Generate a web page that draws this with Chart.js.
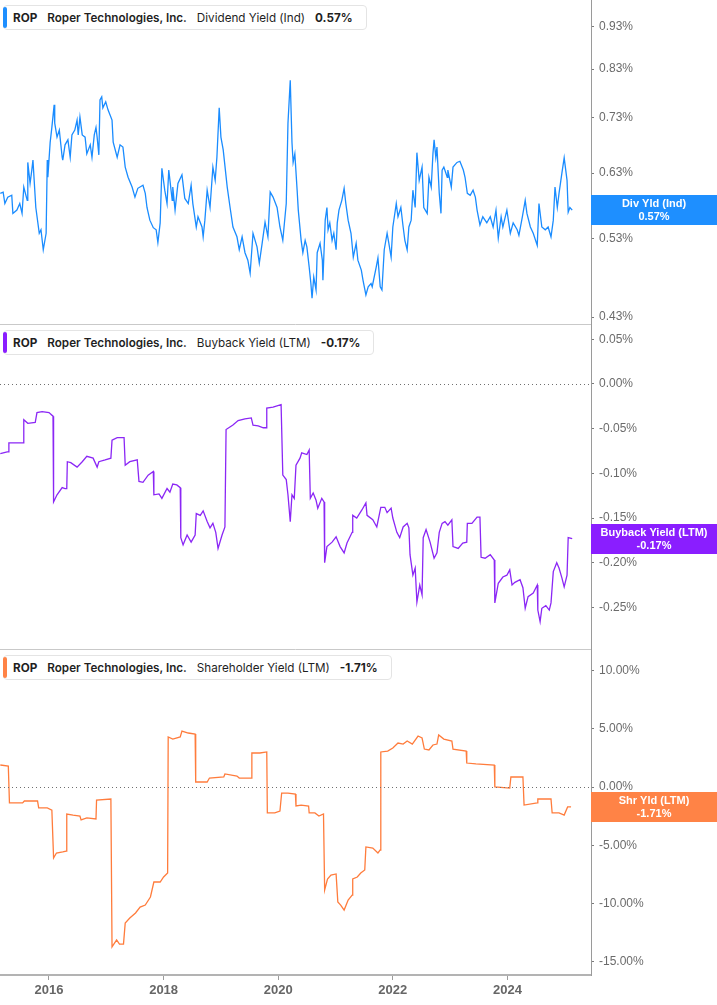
<!DOCTYPE html>
<html>
<head>
<meta charset="utf-8">
<script src="https://cdn.jsdelivr.net/npm/chart.js@4.4.1/dist/chart.umd.min.js"></script>
<style>
  body { margin: 0; background: #fff; }
  #wrap { position: relative; width: 717px; height: 1005px; overflow: hidden; }
  canvas { position: absolute; left: 0; }
  .legend {
    position: absolute; left: 3px; height: 25px; box-sizing: border-box;
    border: 1px solid #e4e4e4; border-radius: 4px; background: #fff;
    display: flex; align-items: center; padding: 0 13px 0 9px;
    font: 11.7px Inter, "Noto Sans", sans-serif; color: #1f1f1f; white-space: nowrap;
  }
  .legend .bar { position: absolute; left: -1px; top: 1px; bottom: 1px; width: 4px; border-radius: 2px; }
  .legend span { margin-right: 10px; }
  .legend .tk { font-weight: 700; }
  .legend .co { font-weight: 600; }
  .legend .val { font-weight: 700; margin-right: 0; }
</style>
</head>
<body>
<div id="wrap">
  <canvas id="divChart" width="717" height="325" style="top:0"></canvas>
  <canvas id="buyChart" width="717" height="325" style="top:325px"></canvas>
  <canvas id="shrChart" width="717" height="355" style="top:650px"></canvas>

  <div class="legend" style="top:5px"><i class="bar" style="background:#1e8fff"></i><span class="tk">ROP</span><span class="co">Roper Technologies, Inc.</span><span>Dividend Yield (Ind)</span><span class="val" id="divVal"></span></div>
  <div class="legend" style="top:330px"><i class="bar" style="background:#8a1eff"></i><span class="tk">ROP</span><span class="co">Roper Technologies, Inc.</span><span>Buyback Yield (LTM)</span><span class="val" id="buyVal"></span></div>
  <div class="legend" style="top:655px"><i class="bar" style="background:#ff8346"></i><span class="tk">ROP</span><span class="co">Roper Technologies, Inc.</span><span>Shareholder Yield (LTM)</span><span class="val" id="shrVal"></span></div>
</div>

<script>
// x values are decimal years
const yearTicks = [2016, 2018, 2020, 2022, 2024];

const divTicks = [0.43, 0.53, 0.63, 0.73, 0.83, 0.93];
const divYears = [
  2015.15, 2015.20, 2015.23, 2015.28, 2015.35, 2015.37, 2015.44, 2015.49, 2015.53, 2015.56,
  2015.62, 2015.63, 2015.67, 2015.70, 2015.72, 2015.77, 2015.83, 2015.86, 2015.90, 2015.95,
  2015.97, 2015.98, 2016.02, 2016.05, 2016.09, 2016.10, 2016.14, 2016.18, 2016.23, 2016.24,
  2016.28, 2016.33, 2016.37, 2016.40, 2016.45, 2016.49, 2016.51, 2016.54, 2016.58, 2016.63,
  2016.66, 2016.72, 2016.75, 2016.79, 2016.82, 2016.84, 2016.87, 2016.89, 2016.92, 2016.94,
  2016.99, 2017.03, 2017.10, 2017.12, 2017.19, 2017.24, 2017.29, 2017.33, 2017.38, 2017.45,
  2017.50, 2017.55, 2017.64, 2017.68, 2017.71, 2017.76, 2017.82, 2017.87, 2017.90, 2017.94,
  2017.97, 2018.02, 2018.06, 2018.09, 2018.15, 2018.16, 2018.20, 2018.25, 2018.32, 2018.37,
  2018.43, 2018.48, 2018.51, 2018.57, 2018.60, 2018.67, 2018.69, 2018.72, 2018.76, 2018.81,
  2018.86, 2018.90, 2018.93, 2018.97, 2019.00, 2019.04, 2019.11, 2019.16, 2019.21, 2019.28,
  2019.32, 2019.37, 2019.42, 2019.47, 2019.51, 2019.56, 2019.63, 2019.67, 2019.72, 2019.77,
  2019.82, 2019.86, 2019.91, 2019.98, 2020.03, 2020.08, 2020.14, 2020.17, 2020.21, 2020.24,
  2020.26, 2020.29, 2020.33, 2020.35, 2020.40, 2020.43, 2020.47, 2020.50, 2020.54, 2020.57,
  2020.59, 2020.62, 2020.66, 2020.68, 2020.73, 2020.77, 2020.78, 2020.82, 2020.85, 2020.87,
  2020.90, 2020.94, 2020.97, 2021.01, 2021.03, 2021.06, 2021.11, 2021.15, 2021.18, 2021.22,
  2021.27, 2021.31, 2021.36, 2021.39, 2021.45, 2021.48, 2021.53, 2021.57, 2021.62, 2021.64,
  2021.71, 2021.74, 2021.78, 2021.81, 2021.85, 2021.90, 2021.93, 2021.97, 2022.00, 2022.06,
  2022.09, 2022.14, 2022.18, 2022.21, 2022.25, 2022.28, 2022.32, 2022.35, 2022.39, 2022.42,
  2022.46, 2022.51, 2022.54, 2022.60, 2022.63, 2022.67, 2022.70, 2022.72, 2022.75, 2022.77,
  2022.81, 2022.84, 2022.86, 2022.89, 2022.95, 2022.96, 2023.02, 2023.05, 2023.12, 2023.17,
  2023.23, 2023.26, 2023.30, 2023.35, 2023.40, 2023.44, 2023.47, 2023.52, 2023.57, 2023.64,
  2023.70, 2023.75, 2023.80, 2023.84, 2023.89, 2023.92, 2023.99, 2024.05, 2024.10, 2024.17,
  2024.20, 2024.26, 2024.31, 2024.34, 2024.40, 2024.45, 2024.52, 2024.55, 2024.60, 2024.66,
  2024.71, 2024.76, 2024.80, 2024.83, 2024.87, 2024.90, 2024.95, 2024.99, 2025.04, 2025.06,
  2025.09, 2025.13
];
const divValues = [
  0.597, 0.599, 0.581, 0.591, 0.594, 0.566, 0.571, 0.581, 0.566, 0.607,
  0.586, 0.648, 0.613, 0.635, 0.652, 0.575, 0.537, 0.542, 0.514, 0.537,
  0.652, 0.623, 0.683, 0.711, 0.755, 0.719, 0.693, 0.706, 0.657, 0.652,
  0.679, 0.688, 0.657, 0.697, 0.706, 0.725, 0.697, 0.731, 0.697, 0.693,
  0.663, 0.679, 0.657, 0.697, 0.711, 0.693, 0.661, 0.765, 0.771, 0.749,
  0.761, 0.745, 0.725, 0.684, 0.657, 0.679, 0.675, 0.640, 0.623, 0.607,
  0.591, 0.605, 0.610, 0.597, 0.575, 0.556, 0.545, 0.542, 0.524, 0.552,
  0.638, 0.602, 0.581, 0.635, 0.586, 0.607, 0.571, 0.613, 0.627, 0.589,
  0.581, 0.610, 0.581, 0.546, 0.561, 0.546, 0.532, 0.556, 0.602, 0.575,
  0.640, 0.618, 0.657, 0.749, 0.693, 0.670, 0.607, 0.575, 0.546, 0.532,
  0.514, 0.532, 0.510, 0.500, 0.483, 0.537, 0.518, 0.496, 0.523, 0.553,
  0.532, 0.599, 0.591, 0.575, 0.546, 0.527, 0.581, 0.719, 0.806, 0.683,
  0.648, 0.663, 0.602, 0.571, 0.527, 0.510, 0.527, 0.518, 0.491, 0.470,
  0.452, 0.478, 0.462, 0.510, 0.523, 0.500, 0.474, 0.556, 0.575, 0.542,
  0.552, 0.527, 0.537, 0.514, 0.552, 0.571, 0.586, 0.605, 0.581, 0.556,
  0.537, 0.504, 0.523, 0.500, 0.487, 0.474, 0.456, 0.466, 0.470, 0.466,
  0.491, 0.503, 0.466, 0.462, 0.514, 0.537, 0.523, 0.504, 0.546, 0.581,
  0.561, 0.575, 0.546, 0.527, 0.514, 0.546, 0.556, 0.602, 0.575, 0.665,
  0.618, 0.640, 0.575, 0.566, 0.623, 0.607, 0.663, 0.688, 0.657, 0.675,
  0.597, 0.566, 0.635, 0.640, 0.623, 0.635, 0.607, 0.640, 0.648, 0.650,
  0.635, 0.623, 0.597, 0.594, 0.602, 0.591, 0.571, 0.549, 0.561, 0.552,
  0.561, 0.546, 0.571, 0.530, 0.561, 0.546, 0.571, 0.537, 0.552, 0.542,
  0.534, 0.561, 0.586, 0.566, 0.546, 0.537, 0.520, 0.581, 0.546, 0.542,
  0.546, 0.532, 0.556, 0.607, 0.575, 0.597, 0.630, 0.656, 0.618, 0.568,
  0.575, 0.571
];

const buyTicks = [-0.25, -0.20, -0.15, -0.10, -0.05, 0.00, 0.05];
const buyYears = [
  2015.15, 2015.27, 2015.29, 2015.30, 2015.55, 2015.56, 2015.63, 2015.76, 2015.79, 2015.88,
  2016.00, 2016.07, 2016.08, 2016.14, 2016.23, 2016.28, 2016.31, 2016.32, 2016.38, 2016.49,
  2016.58, 2016.66, 2016.77, 2016.84, 2016.87, 2016.98, 2017.08, 2017.10, 2017.19, 2017.31,
  2017.33, 2017.41, 2017.54, 2017.57, 2017.64, 2017.73, 2017.82, 2017.83, 2017.92, 2017.97,
  2018.06, 2018.11, 2018.16, 2018.23, 2018.29, 2018.30, 2018.34, 2018.41, 2018.48, 2018.55,
  2018.57, 2018.64, 2018.69, 2018.76, 2018.81, 2018.86, 2018.91, 2018.95, 2019.02, 2019.07,
  2019.09, 2019.21, 2019.30, 2019.42, 2019.53, 2019.56, 2019.65, 2019.74, 2019.79, 2019.80,
  2019.91, 2020.05, 2020.08, 2020.14, 2020.17, 2020.21, 2020.24, 2020.28, 2020.31, 2020.38,
  2020.41, 2020.50, 2020.54, 2020.56, 2020.61, 2020.66, 2020.69, 2020.76, 2020.80, 2020.81,
  2020.85, 2020.94, 2021.01, 2021.08, 2021.15, 2021.20, 2021.29, 2021.30, 2021.37, 2021.46,
  2021.53, 2021.55, 2021.65, 2021.72, 2021.79, 2021.86, 2021.90, 2021.97, 2022.00, 2022.07,
  2022.12, 2022.18, 2022.25, 2022.28, 2022.30, 2022.35, 2022.39, 2022.42, 2022.47, 2022.51,
  2022.53, 2022.58, 2022.65, 2022.72, 2022.77, 2022.81, 2022.86, 2022.91, 2022.96, 2023.03,
  2023.05, 2023.14, 2023.22, 2023.29, 2023.30, 2023.38, 2023.47, 2023.52, 2023.54, 2023.61,
  2023.70, 2023.77, 2023.78, 2023.84, 2023.92, 2023.99, 2024.04, 2024.08, 2024.13, 2024.22,
  2024.27, 2024.31, 2024.36, 2024.45, 2024.52, 2024.53, 2024.57, 2024.60, 2024.67, 2024.73,
  2024.76, 2024.80, 2024.86, 2024.90, 2024.95, 2024.99, 2025.04, 2025.06, 2025.13
];
const buyValues = [
  -0.078, -0.076, -0.076, -0.066, -0.066, -0.040, -0.044, -0.043, -0.032, -0.031,
  -0.032, -0.036, -0.132, -0.124, -0.116, -0.117, -0.117, -0.087, -0.088, -0.093,
  -0.087, -0.081, -0.083, -0.093, -0.087, -0.085, -0.083, -0.063, -0.060, -0.060,
  -0.091, -0.087, -0.085, -0.109, -0.110, -0.102, -0.098, -0.124, -0.123, -0.128,
  -0.117, -0.121, -0.112, -0.113, -0.116, -0.172, -0.180, -0.169, -0.177, -0.169,
  -0.145, -0.147, -0.142, -0.154, -0.161, -0.156, -0.166, -0.184, -0.169, -0.160,
  -0.051, -0.046, -0.041, -0.039, -0.038, -0.046, -0.047, -0.049, -0.049, -0.027,
  -0.026, -0.023, -0.102, -0.107, -0.124, -0.154, -0.124, -0.128, -0.091, -0.083,
  -0.077, -0.079, -0.074, -0.128, -0.122, -0.130, -0.139, -0.128, -0.132, -0.200,
  -0.182, -0.177, -0.171, -0.182, -0.189, -0.178, -0.166, -0.147, -0.150, -0.141,
  -0.133, -0.147, -0.152, -0.160, -0.138, -0.138, -0.144, -0.139, -0.150, -0.166,
  -0.172, -0.160, -0.156, -0.161, -0.191, -0.214, -0.206, -0.244, -0.225, -0.236,
  -0.172, -0.163, -0.177, -0.195, -0.189, -0.166, -0.156, -0.154, -0.158, -0.152,
  -0.182, -0.184, -0.178, -0.177, -0.156, -0.156, -0.149, -0.149, -0.194, -0.195,
  -0.191, -0.197, -0.245, -0.223, -0.216, -0.214, -0.208, -0.225, -0.222, -0.219,
  -0.228, -0.251, -0.238, -0.234, -0.225, -0.253, -0.266, -0.251, -0.248, -0.253,
  -0.245, -0.210, -0.200, -0.206, -0.217, -0.227, -0.214, -0.172, -0.173
];

const shrTicks = [-15, -10, -5, 0, 5, 10];
const shrYears = [
  2015.15, 2015.29, 2015.31, 2015.54, 2015.57, 2015.80, 2015.82, 2015.97, 2016.05, 2016.08,
  2016.13, 2016.24, 2016.30, 2016.31, 2016.42, 2016.54, 2016.56, 2016.66, 2016.82, 2016.83,
  2017.08, 2017.10, 2017.18, 2017.23, 2017.30, 2017.33, 2017.41, 2017.51, 2017.59, 2017.68,
  2017.77, 2017.83, 2017.94, 2018.00, 2018.07, 2018.08, 2018.16, 2018.29, 2018.32, 2018.43,
  2018.55, 2018.56, 2018.76, 2018.80, 2019.05, 2019.07, 2019.28, 2019.32, 2019.53, 2019.54,
  2019.68, 2019.80, 2019.81, 2019.94, 2020.03, 2020.06, 2020.17, 2020.30, 2020.31, 2020.40,
  2020.53, 2020.54, 2020.64, 2020.71, 2020.79, 2020.81, 2020.86, 2020.92, 2021.01, 2021.04,
  2021.09, 2021.15, 2021.22, 2021.29, 2021.30, 2021.38, 2021.44, 2021.51, 2021.53, 2021.65,
  2021.74, 2021.78, 2021.79, 2021.91, 2022.00, 2022.09, 2022.18, 2022.25, 2022.34, 2022.44,
  2022.51, 2022.55, 2022.63, 2022.70, 2022.77, 2022.80, 2022.89, 2023.03, 2023.05, 2023.28,
  2023.29, 2023.45, 2023.77, 2023.78, 2024.04, 2024.06, 2024.27, 2024.29, 2024.52, 2024.53,
  2024.76, 2024.78, 2024.90, 2024.99, 2025.05, 2025.11
];
const shrValues = [
  1.89, 1.80, -1.37, -1.37, -1.20, -1.20, -1.80, -1.80, -1.98, -6.10,
  -5.67, -5.58, -5.50, -2.32, -2.41, -2.49, -2.83, -2.66, -2.75, -1.12,
  -1.03, -13.74, -13.14, -13.49, -13.49, -11.68, -11.25, -10.82, -10.31, -10.14,
  -9.45, -8.16, -8.16, -7.73, -7.39, 4.30, 4.12, 4.30, 4.81, 4.64,
  4.55, 0.43, 0.43, 0.77, 0.86, 1.12, 0.94, 0.77, 0.77, 2.92,
  2.92, 3.01, -2.23, -2.23, -2.06, -0.52, -0.52, -0.60, -1.63, -1.55,
  -1.63, -2.23, -2.23, -2.49, -2.32, -8.85, -7.90, -7.56, -7.47, -9.88,
  -10.14, -10.57, -9.71, -9.28, -7.90, -7.73, -7.39, -7.13, -5.15, -5.24,
  -5.67, -5.41, 3.01, 3.09, 3.35, 3.78, 3.69, 3.95, 3.69, 4.38,
  4.21, 3.26, 3.18, 3.61, 3.69, 4.47, 4.12, 3.95, 3.26, 3.09,
  2.06, 1.98, 1.89, 0.00, -0.09, 0.86, 0.86, -1.55, -1.37, -1.03,
  -1.03, -2.23, -2.23, -2.41, -1.71, -1.71
];

const X_MIN = 2015.145;
const X_MAX = 2025.458;
const AXIS_FONT = 'Liberation Sans, Arial, sans-serif';

const last = arr => arr[arr.length - 1];
const pct = v => v.toFixed(2) + '%';

// badge on the axis, dotted zero line and panel separator
const panelDecor = {
  id: 'panelDecor',
  afterDatasetsDraw(chart, args, opts) {
    const { ctx, chartArea } = chart;
    ctx.save();
    if (opts.zeroLine) {
      const py = Math.round(chart.scales.y.getPixelForValue(0)) + 0.5;
      ctx.strokeStyle = '#6f6f6f';
      ctx.lineWidth = 1;
      ctx.setLineDash([1, 3]);
      ctx.beginPath();
      ctx.moveTo(chartArea.left, py);
      ctx.lineTo(chartArea.right, py);
      ctx.stroke();
      ctx.setLineDash([]);
    }
    if (opts.separator) {
      ctx.strokeStyle = '#c9c9c9';
      ctx.lineWidth = 1;
      ctx.beginPath();
      ctx.moveTo(chartArea.left, chartArea.bottom - 0.5);
      ctx.lineTo(chartArea.right, chartArea.bottom - 0.5);
      ctx.stroke();
    }
    ctx.restore();
  },
  afterDraw(chart, args, opts) {
    if (!opts.badge) return;
    const { ctx, chartArea } = chart;
    const b = opts.badge;
    const py = Math.round(chart.scales.y.getPixelForValue(b.value));
    const left = chartArea.right;
    ctx.save();
    ctx.fillStyle = b.color;
    ctx.fillRect(left, py - 15, chart.width - left, 30);
    ctx.fillStyle = '#fff';
    ctx.font = 'bold 11px ' + AXIS_FONT;
    ctx.textAlign = 'center';
    ctx.textBaseline = 'middle';
    const cx = (left + chart.width) / 2;
    ctx.fillText(b.label, cx, py - 6);
    ctx.fillText(pct(b.value), cx, py + 7);
    ctx.restore();
  }
};

function makePanel(id, cfg) {
  return new Chart(document.getElementById(id), {
    type: 'line',
    data: {
      datasets: [{
        data: cfg.years.map((x, i) => ({ x, y: cfg.values[i] })),
        borderColor: cfg.color,
        borderWidth: 1.3,
        pointRadius: 0,
        tension: 0
      }]
    },
    options: {
      responsive: false,
      animation: false,
      layout: { padding: 0 },
      plugins: {
        legend: { display: false },
        tooltip: { enabled: false },
        panelDecor: {
          zeroLine: cfg.zeroLine,
          separator: !cfg.showX,
          badge: { color: cfg.badgeColor, label: cfg.badgeLabel, value: last(cfg.values) }
        }
      },
      scales: {
        x: {
          type: 'linear',
          min: X_MIN,
          max: X_MAX,
          display: cfg.showX,
          afterBuildTicks: s => { s.ticks = yearTicks.map(v => ({ value: v })); },
          afterFit: s => {
            s.height = cfg.showX ? 30 : 0;
            s.paddingLeft = 0;
            s.paddingRight = 0;
          },
          grid: { drawOnChartArea: false, drawTicks: true, tickLength: 5, tickColor: '#9c9c9c' },
          border: { color: '#b3b3b3', width: 2 },
          ticks: {
            padding: 3, color: '#666', autoSkip: false, maxRotation: 0,
            font: { family: AXIS_FONT, size: 13, weight: 'bold' },
            callback: v => String(v)
          }
        },
        y: {
          type: cfg.log ? 'logarithmic' : 'linear',
          position: 'right',
          min: cfg.min,
          max: cfg.max,
          afterBuildTicks: s => { s.ticks = cfg.ticks.map(v => ({ value: v })); },
          afterFit: s => { s.width = 126; s.paddingTop = 0; s.paddingBottom = 0; },
          grid: { drawOnChartArea: false, drawTicks: true, tickLength: 3, tickColor: '#7a7a7a' },
          border: { color: '#9a9a9a', width: 1 },
          ticks: {
            padding: 5, color: '#6b6b6b', autoSkip: false,
            font: { family: AXIS_FONT, size: 12 },
            callback: v => pct(v)
          }
        }
      }
    },
    plugins: [panelDecor]
  });
}

makePanel('divChart', {
  years: divYears, values: divValues, ticks: divTicks, log: true,
  min: 0.421, max: 0.997, color: '#1a8cff', showX: false, zeroLine: false,
  badgeColor: '#1e8fff', badgeLabel: 'Div Yld (Ind)'
});

makePanel('buyChart', {
  years: buyYears, values: buyValues, ticks: buyTicks, log: false,
  min: -0.2977, max: 0.066, color: '#8b27f5', showX: false, zeroLine: true,
  badgeColor: '#8a1eff', badgeLabel: 'Buyback Yield (LTM)'
});

makePanel('shrChart', {
  years: shrYears, values: shrValues, ticks: shrTicks, log: false,
  min: -16.15, max: 11.77, color: '#ff7c3c', showX: true, zeroLine: true,
  badgeColor: '#ff8346', badgeLabel: 'Shr Yld (LTM)'
});

document.getElementById('divVal').textContent = pct(last(divValues));
document.getElementById('buyVal').textContent = pct(last(buyValues));
document.getElementById('shrVal').textContent = pct(last(shrValues));
</script>
</body>
</html>
